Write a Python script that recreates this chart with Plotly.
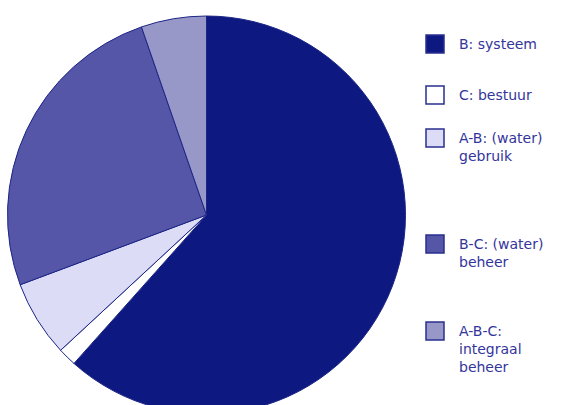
import plotly.graph_objects as go

labels = ["B: systeem", "C: bestuur", "A-B: (water)<br>gebruik", "B-C: (water)<br>beheer", "A-B-C:<br>integraal<br>beheer"]
values = [61.6, 1.5, 6.2, 25.4, 5.3]
colors = ["#0d1980", "#ffffff", "#dcdcf6", "#5656a8", "#9898c8"]
legend_y_px = [44, 95, 138, 244, 331]

W, H = 580, 430
cx, cy, r = 206.5, 215, 199

fig = go.Figure(go.Pie(
    labels=labels, values=values, sort=False, direction="clockwise", rotation=0,
    marker=dict(colors=colors, line=dict(color="#1c2585", width=1)),
    textinfo="none", hoverinfo="label+percent", showlegend=False,
    domain=dict(x=[(cx - r) / W, (cx + r) / W], y=[1 - (cy + r) / H, 1 - (cy - r) / H]),
))

shapes, annotations = [], []
box = 18
for lab, col, ypx in zip(labels, colors, legend_y_px):
    y0 = ypx - 9
    shapes.append(dict(type="rect", xref="paper", yref="paper",
                       x0=426 / W, x1=(426 + box) / W, y0=1 - (y0 + box) / H, y1=1 - y0 / H,
                       fillcolor=col, line=dict(color="#2a2f8f", width=1.5)))
    annotations.append(dict(text=lab, xref="paper", yref="paper", x=457 / W, y=1 - (ypx - 10) / H,
                            xanchor="left", yanchor="top", showarrow=False, align="left",
                            font=dict(family="DejaVu Sans", size=14, color="#33359c")))

fig.update_layout(width=W, height=H, margin=dict(l=0, r=0, t=0, b=0),
                  paper_bgcolor="white", plot_bgcolor="white",
                  shapes=shapes, annotations=annotations)

fig.write_html("out.html", post_script="document.body.style.overflow='hidden';document.documentElement.style.overflow='hidden';document.body.style.margin='0';")
